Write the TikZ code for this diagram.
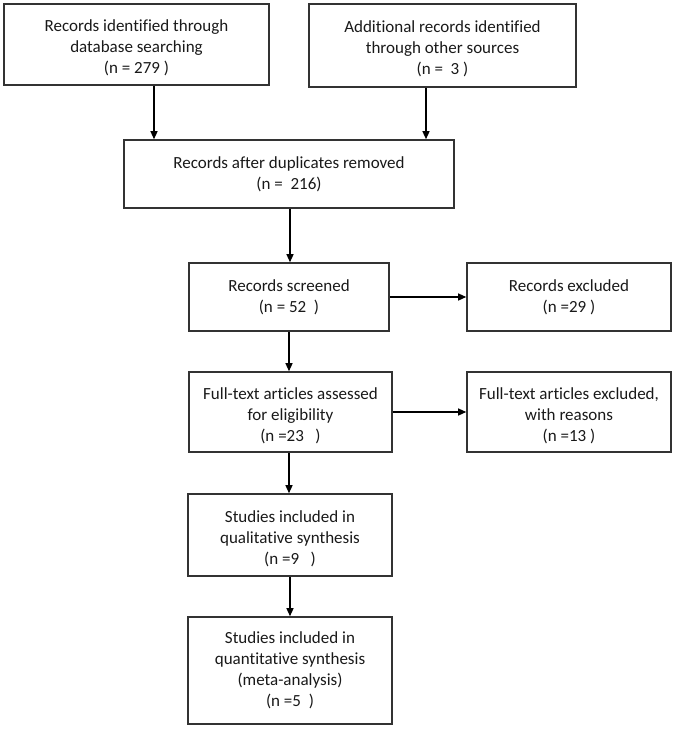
\documentclass[tikz,border=0pt]{standalone}
\usepackage{fontspec}
\setmainfont{Carlito}[Ligatures=CommonOff]
\usetikzlibrary{arrows.meta}
\newcommand{\lowr}{\rule{0pt}{19pt}}
\begin{document}
\begin{tikzpicture}[x=1pt,y=-1pt,
  box/.style={draw=black!80, line width=1.6pt, align=center, text=black!90,
    font=\fontsize{17}{21}\selectfont, inner sep=0pt, anchor=center},
  arr/.style={-{Triangle[length=8pt,width=7pt]}, line width=1.3pt}]
\useasboundingbox (0,0) rectangle (675,731);
\node[box, minimum width=265pt, minimum height=81pt] (a) at (136.5,44.5)
  {\lowr Records identified through\\database searching\\(n = 279 )};
\node[box, minimum width=267pt, minimum height=83pt] (b) at (442.5,45.5)
  {\lowr Additional records identified\\through other sources\\(n =\ \ 3 )};
\node[box, minimum width=330pt, minimum height=68pt] (c) at (289,174)
  {Records after duplicates removed\\(n =\ \ 216)};
\node[box, minimum width=200pt, minimum height=68pt] (d) at (289,297)
  {Records screened\\(n = 52\ \ )};
\node[box, minimum width=204pt, minimum height=68pt] (e) at (569,297)
  {Records excluded\\(n =29 )};
\node[box, minimum width=203pt, minimum height=80pt] (f) at (290.5,412)
  {\lowr Full-text articles assessed\\for eligibility\\(n =23\ \ \ )};
\node[box, minimum width=204pt, minimum height=80pt] (g2) at (569,412)
  {\lowr Full-text articles excluded,\\with reasons\\(n =13 )};
\node[box, minimum width=204pt, minimum height=82pt] (g) at (290,535)
  {\lowr Studies included in\\qualitative synthesis\\(n =9\ \ \ )};
\node[box, minimum width=204pt, minimum height=107pt] (h) at (290,670.5)
  {Studies included in\\quantitative synthesis\\(meta-analysis)\\(n =5\ \ )};
\draw[arr] ([xshift=17.5pt]a.south) -- ([xshift=17.5pt]a.south |- c.north);
\draw[arr] ([xshift=-16.5pt]b.south) -- ([xshift=-16.5pt]b.south |- c.north);
\draw[arr] ([xshift=1pt]c.south) -- ([xshift=1pt]c.south |- d.north);
\draw[arr] (d.east) -- (e.west);
\draw[arr] (f.east) -- (g2.west);
\draw[arr] (d.south |- f.south) -- (d.south |- g.north);
\draw[arr] (d.south |- d.south) -- (d.south |- f.north);
\draw[arr] (g.south) -- (h.north);
\end{tikzpicture}
\end{document}
